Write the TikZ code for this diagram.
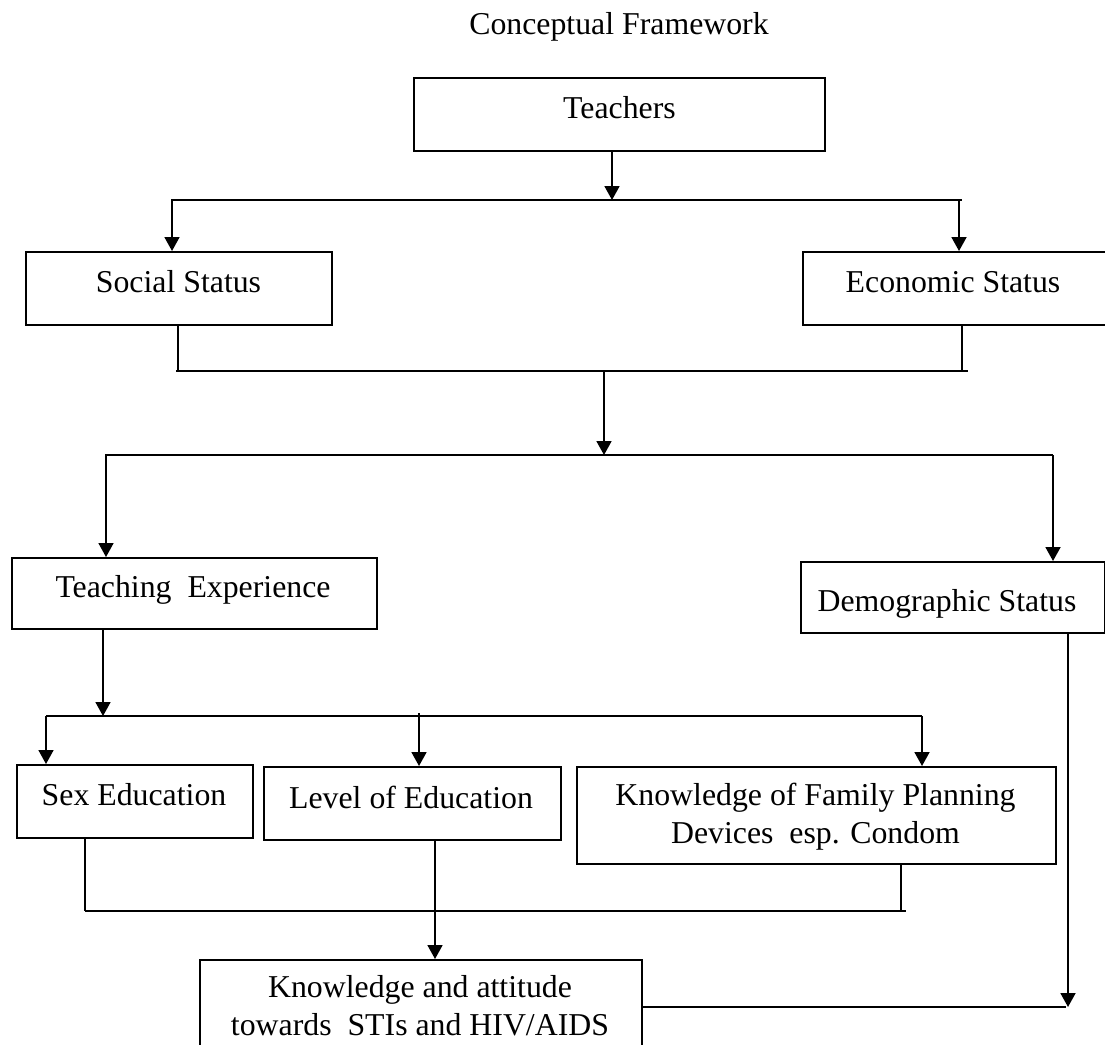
\documentclass[tikz,border=0pt]{standalone}
\usepackage{fontspec}
\setmainfont{Liberation Serif}
\usetikzlibrary{arrows.meta}
\begin{document}
\begin{tikzpicture}[x=1pt,y=-1pt,
  box/.style={draw, line width=1.8pt, inner sep=0pt, anchor=north west},
  txt/.style={font=\fontsize{31.8}{37.5}\selectfont, inner sep=0pt, anchor=base, align=center},
  ln/.style={line width=1.8pt},
  arr/.style={line width=1.8pt, -{Triangle[length=14pt,width=15pt]}}]
\useasboundingbox (0,0) rectangle (1105,1044);
\clip (0,0) rectangle (1105,1044);
% title
\node[txt] (title) at (619,34) {Conceptual Framework};
% boxes
\node[box, minimum width=411pt, minimum height=73pt] (teach) at (413,77) {};
\node[box, minimum width=306pt, minimum height=73pt] (social) at (25,251) {};
\node[box, minimum width=310pt, minimum height=73pt] (econ) at (802,251) {};
\node[box, minimum width=365pt, minimum height=71pt] (texp) at (11,557) {};
\node[box, minimum width=304pt, minimum height=71pt] (demo) at (800,561) {};
\node[box, minimum width=236pt, minimum height=73pt] (sex) at (16,764) {};
\node[box, minimum width=297pt, minimum height=73pt] (level) at (263,766) {};
\node[box, minimum width=479pt, minimum height=97pt] (kfp) at (576,766) {};
\node[box, minimum width=442pt, minimum height=110pt] (ka) at (199,959) {};
% texts
\node[txt] (teach-t) at (619.5,118) {Teachers};
\node[txt] (social-t) at (178.5,292) {Social Status};
\node[txt] (econ-t) at (953,292) {Economic Status};
\node[txt] (texp-t) at (193,597) {Teaching\ \ Experience};
\node[txt] (demo-t) at (947,611) {Demographic Status};
\node[txt] (sex-t) at (134,805) {Sex Education};
\node[txt] (level-t) at (411,808) {Level of Education};
\node[txt] (kfp-t) at (815.5,843) {Knowledge of Family Planning\\Devices\ \ esp. Condom};
\node[txt] (ka-t) at (420,1035) {Knowledge and attitude\\towards\ \ STIs and HIV/AIDS};
% junction coordinates
\coordinate (j1) at (612,200);
\coordinate (j1l) at (171,200);
\coordinate (j1r) at (962,200);
\coordinate (a1) at (172,200);
\coordinate (a2) at (959,200);
\coordinate (j2l) at (176,371);
\coordinate (j2r) at (968,371);
\coordinate (s2) at (178,371);
\coordinate (e2) at (962,371);
\coordinate (m2) at (604,371);
\coordinate (j3) at (604,455);
\coordinate (j3l) at (105,455);
\coordinate (j3r) at (1053,455);
\coordinate (a3) at (106,455);
\coordinate (a4) at (1053,455);
\coordinate (j4) at (103,716);
\coordinate (j4l) at (46,716);
\coordinate (j4r) at (922,716);
\coordinate (a5) at (419,713);
\coordinate (j5l) at (85,911);
\coordinate (j5r) at (906,911);
\coordinate (k5) at (901,911);
\coordinate (lv) at (435,911);
\coordinate (dm) at (1068,1007);
\coordinate (dmr) at (1066,1007);
% connectors
\draw[arr] (teach.south -| j1) -- (j1);
\draw[ln] (j1l) -- (j1r);
\draw[arr] (a1) -- (a1 |- social.north);
\draw[arr] (a2) -- (a2 |- econ.north);
\draw[ln] (social.south -| s2) -- (s2);
\draw[ln] (econ.south -| e2) -- (e2);
\draw[ln] (j2l) -- (j2r);
\draw[arr] (m2) -- (j3);
\draw[ln] (j3l) -- (j3r);
\draw[arr] (a3) -- (a3 |- texp.north);
\draw[arr] (a4) -- (a4 |- demo.north);
\draw[arr] (texp.south -| j4) -- (j4);
\draw[ln] (j4l) -- (j4r);
\draw[arr] (j4l) -- (j4l |- sex.north);
\draw[arr] (a5) -- (a5 |- level.north);
\draw[arr] (j4r) -- (j4r |- kfp.north);
\draw[ln] (sex.south -| j5l) -- (j5l);
\draw[ln] (kfp.south -| k5) -- (k5);
\draw[ln] (j5l) -- (j5r);
\draw[arr] (level.south -| lv) -- (lv |- ka.north);
\draw[arr] (demo.south -| dm) -- (dm);
\draw[ln] (ka.east |- dmr) -- (dmr);
\end{tikzpicture}
\end{document}
